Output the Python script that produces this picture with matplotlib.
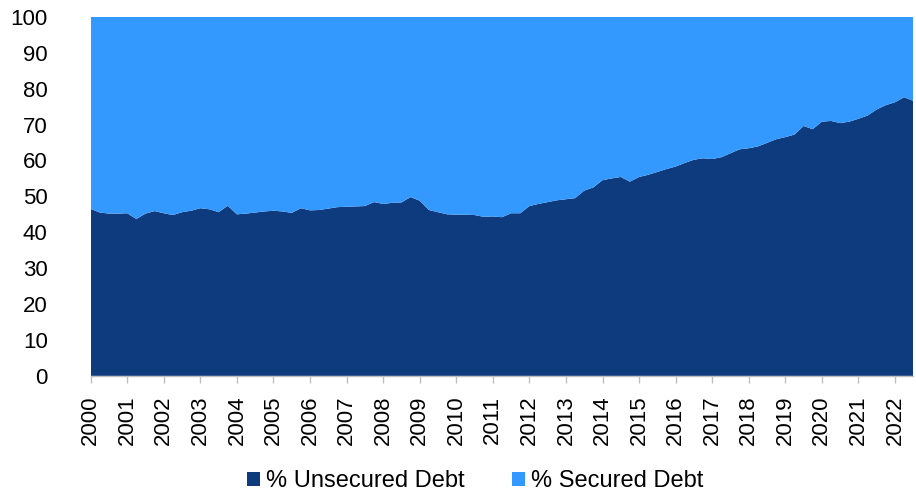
import matplotlib
matplotlib.use("Agg")
import matplotlib.pyplot as plt
import numpy as np

plt.rcParams['font.family'] = ['Liberation Sans', 'DejaVu Sans']

years = list(range(2000, 2023))
year_labels = [str(y) for y in years]

# Quarterly share of unsecured debt (%), 2000Q1 .. 2022Q3
unsecured = [
    46.5, 45.5, 45.2, 45.2, 45.3, 43.7, 45.2, 45.9,
    45.3, 44.8, 45.6, 46.0, 46.7, 46.4, 45.6, 47.4,
    45.0, 45.2, 45.5, 45.8, 46.0, 45.8, 45.4, 46.7,
    46.1, 46.2, 46.6, 47.0, 47.1, 47.2, 47.3, 48.4,
    47.9, 48.2, 48.3, 49.8, 48.8, 46.2, 45.6, 45.0,
    44.9, 44.9, 44.8, 44.3, 44.4, 44.2, 45.3, 45.3,
    47.3, 47.9, 48.4, 48.9, 49.2, 49.5, 51.6, 52.5,
    54.5, 55.0, 55.4, 54.1, 55.4, 56.0, 56.8, 57.6,
    58.3, 59.3, 60.2, 60.6, 60.4, 60.9, 62.0, 63.1,
    63.4, 63.9, 64.9, 65.9, 66.5, 67.2, 69.6, 68.7,
    70.8, 71.0, 70.4, 70.8, 71.6, 72.5, 74.2, 75.4,
    76.2, 77.6, 76.6,
]
secured = [100 - u for u in unsecured]

series_names = ['% Unsecured Debt', '% Secured Debt']
colors = ['#0E3B7E', '#3399FF']

x = np.arange(len(unsecured))

fig = plt.figure(figsize=(9.16, 4.94), dpi=100)
ax = fig.add_axes([0.099, 0.239, 0.898, 0.727])

ax.stackplot(x, unsecured, secured, colors=colors, labels=series_names,
             linewidth=0)

ax.set_xlim(0, len(unsecured) - 1)
ax.set_ylim(0, 100)
ax.set_yticks(np.arange(0, 101, 10))
ax.tick_params(axis='y', length=0, pad=31, labelsize=16)
ax.set_xticks(np.arange(0, len(unsecured), 4))
ax.set_xticklabels(year_labels, rotation=90)
ax.tick_params(axis='x', length=5, width=1, color='#BFBFBF', pad=9, labelsize=16)

for s in ['top', 'right', 'left']:
    ax.spines[s].set_visible(False)
ax.spines['bottom'].set_color('#BFBFBF')
ax.spines['bottom'].set_linewidth(1)

handles, labels = ax.get_legend_handles_labels()
fig.legend(handles, labels, loc='center', bbox_to_anchor=(0.519, 0.026),
           ncol=2, frameon=False, fontsize=17, handlelength=0.55,
           handleheight=0.55, handletextpad=0.25, columnspacing=2.0)

fig.savefig('out.png', dpi=100)
